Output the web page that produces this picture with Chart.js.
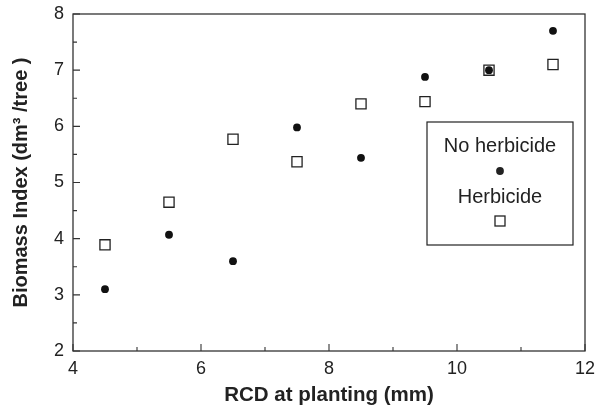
<!DOCTYPE html>
<html lang="en">
<head>
    <meta charset="UTF-8">
    <title>Biomass Index vs RCD</title>
    <script src="https://cdn.jsdelivr.net/npm/chart.js"></script>
    <style>
        body {
            margin: 0;
            background: #fff;
        }
        .chart-box {
            width: 597px;
            height: 410px;
        }
    </style>
</head>
<body>
    <div class="chart-box">
        <canvas id="scatterChart" width="597" height="410"></canvas>
    </div>

    <script>
        // Data
        const rcd = [4.5, 5.5, 6.5, 7.5, 8.5, 9.5, 10.5, 11.5];
        const noHerbicide = [3.1, 4.07, 3.6, 5.98, 5.44, 6.88, 7.0, 7.7];
        const herbicide = [3.89, 4.65, 5.77, 5.37, 6.4, 6.44, 7.0, 7.1];
        const xTicks = [4, 6, 8, 10, 12];
        const yTicks = [2, 3, 4, 5, 6, 7, 8];
        const legendLabels = ['No herbicide', 'Herbicide'];

        const ink = '#222';
        const fontFamily = 'Arial, "Liberation Sans", sans-serif';

        // frame, inward ticks and the boxed legend
        const framePlugin = {
            id: 'frame',
            beforeDatasetsDraw(chart) {
                const { ctx, chartArea: a, scales } = chart;
                ctx.save();
                ctx.strokeStyle = '#333';
                ctx.lineWidth = 1.3;
                ctx.strokeRect(a.left, a.top, a.right - a.left, a.bottom - a.top);

                ctx.lineWidth = 1.1;
                ctx.beginPath();
                for (let v = xTicks[0]; v <= xTicks[xTicks.length - 1]; v += 1) {
                    const px = scales.x.getPixelForValue(v);
                    const len = v % 2 === 0 ? 7 : 4;
                    ctx.moveTo(px, a.bottom);
                    ctx.lineTo(px, a.bottom - len);
                }
                for (let v = yTicks[0]; v <= yTicks[yTicks.length - 1]; v += 0.5) {
                    const py = scales.y.getPixelForValue(v);
                    const len = v % 1 === 0 ? 7 : 4;
                    ctx.moveTo(a.left, py);
                    ctx.lineTo(a.left + len, py);
                }
                ctx.stroke();
                ctx.restore();
            },
            afterDatasetsDraw(chart) {
                const { ctx, chartArea: a } = chart;
                const bx = a.right - 158, by = a.top + 108, bw = 146, bh = 123;
                const cx = bx + bw / 2;
                ctx.save();
                ctx.strokeStyle = '#222';
                ctx.lineWidth = 1.2;
                ctx.strokeRect(bx, by, bw, bh);

                ctx.fillStyle = ink;
                ctx.font = '20px ' + fontFamily;
                ctx.textAlign = 'center';
                ctx.textBaseline = 'middle';
                ctx.fillText(legendLabels[0], cx, by + 24);
                ctx.fillText(legendLabels[1], cx, by + 75);

                ctx.beginPath();
                ctx.arc(cx, by + 49, 3.9, 0, Math.PI * 2);
                ctx.fill();

                ctx.fillStyle = '#fff';
                ctx.lineWidth = 1.3;
                ctx.fillRect(cx - 5, by + 94, 10, 10);
                ctx.strokeRect(cx - 5, by + 94, 10, 10);
                ctx.restore();
            }
        };

        const ctx = document.getElementById('scatterChart').getContext('2d');
        new Chart(ctx, {
            type: 'scatter',
            data: {
                datasets: [
                    {
                        label: legendLabels[0],
                        data: rcd.map((x, i) => ({ x: x, y: noHerbicide[i] })),
                        pointStyle: 'circle',
                        pointRadius: 3.9,
                        backgroundColor: '#111',
                        borderColor: '#111',
                        borderWidth: 0
                    },
                    {
                        label: legendLabels[1],
                        data: rcd.map((x, i) => ({ x: x, y: herbicide[i] })),
                        pointStyle: 'rect',
                        pointRadius: 7.2,
                        backgroundColor: '#fff',
                        borderColor: '#222',
                        borderWidth: 1.3
                    }
                ]
            },
            options: {
                responsive: false,
                animation: false,
                events: [],
                layout: { padding: { top: 14, right: 12, left: 0, bottom: 0 } },
                plugins: {
                    legend: { display: false },
                    tooltip: { enabled: false }
                },
                scales: {
                    x: {
                        type: 'linear',
                        min: 4,
                        max: 12,
                        afterBuildTicks: s => { s.ticks = xTicks.map(v => ({ value: v })); },
                        afterFit: s => {
                            s.height = 59;
                            s.paddingLeft = 0;
                            s.paddingRight = 0;
                        },
                        grid: { display: false, drawTicks: false },
                        border: { display: false },
                        ticks: {
                            padding: 7,
                            color: ink,
                            font: { size: 18, family: fontFamily }
                        },
                        title: {
                            display: true,
                            text: 'RCD at planting (mm)',
                            color: ink,
                            font: { size: 20.5, weight: 'bold', family: fontFamily },
                            padding: { top: 0, bottom: 2 }
                        }
                    },
                    y: {
                        type: 'linear',
                        min: 2,
                        max: 8,
                        afterBuildTicks: s => { s.ticks = yTicks.map(v => ({ value: v })); },
                        afterFit: s => {
                            s.width = 73;
                            s.paddingTop = 0;
                            s.paddingBottom = 0;
                        },
                        grid: { display: false, drawTicks: false },
                        border: { display: false },
                        ticks: {
                            padding: 9,
                            color: ink,
                            font: { size: 18, family: fontFamily }
                        },
                        title: {
                            display: true,
                            text: 'Biomass Index (dm³ /tree )',
                            color: ink,
                            font: { size: 20, weight: 'bold', family: fontFamily },
                            padding: { top: 9, bottom: 0 }
                        }
                    }
                }
            },
            plugins: [framePlugin]
        });
    </script>
</body>
</html>
